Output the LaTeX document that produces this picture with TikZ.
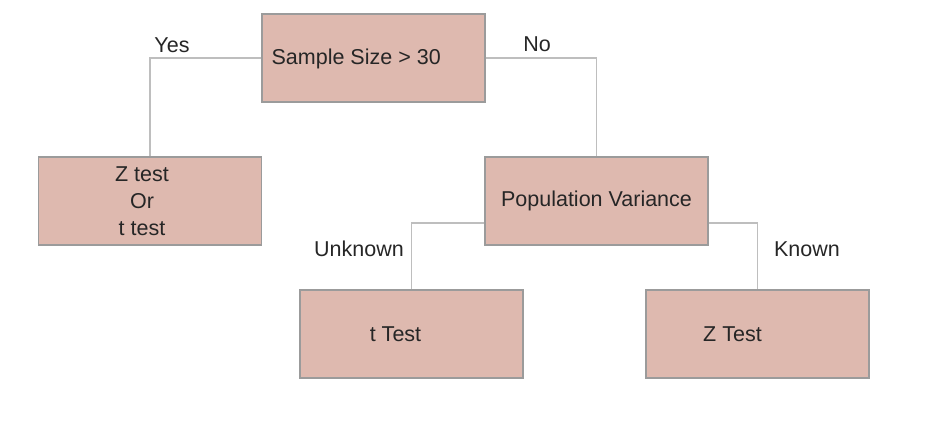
\documentclass[tikz,border=0pt]{standalone}
\usepackage{fontspec}
\setmainfont{Liberation Sans}
\usepackage{tikz}
\definecolor{boxfill}{RGB}{222,185,175}
\definecolor{boxline}{RGB}{155,155,155}
\definecolor{wire}{RGB}{190,190,190}

\begin{document}
\begin{tikzpicture}[x=1pt, y=-1pt,
    box/.style={draw=boxline, line width=1.1pt, fill=boxfill,
        minimum width=223pt, minimum height=88pt, inner sep=0pt},
    txt/.style={font=\fontsize{21.5}{27}\selectfont, text=black!85, inner sep=0pt},
    wire/.style={draw=wire, line width=1.8pt}]
    \useasboundingbox (0,0) rectangle (928,438);

    % Decision boxes
    \node[box, label={[txt, anchor=west, xshift=10pt, yshift=-1pt]west:Sample Size > 30}] (size) at (373.5,58) {};
    \node[box, label={[txt, align=center, xshift=-8pt]center:Z test\\Or\\t test}] (small) at (150,201) {};
    \node[box, label={[txt]center:Population Variance}] (var) at (596.5,201) {};
    \node[box, label={[txt, xshift=-16pt]center:t Test}] (ttest) at (411.5,334) {};
    \node[box, label={[txt, xshift=-25pt]center:Z Test}] (ztest) at (757.5,334) {};

    % Connectors
    \draw[wire] (size.west) -| (small.north);
    \draw[wire] (size.east) -| (var.north);
    \draw[wire, line width=1.4pt] ([yshift=-22pt]var.west) -| (ttest.north);
    \draw[wire, line width=1.4pt] ([yshift=-22pt]var.east) -| (ztest.north);

    % Branch labels
    \node[txt] (yes) at (172,45) {Yes};
    \node[txt] (no) at (537,44) {No};
    \node[txt] (unknown) at (359,249) {Unknown};
    \node[txt] (known) at (807,249) {Known};
\end{tikzpicture}
\end{document}
